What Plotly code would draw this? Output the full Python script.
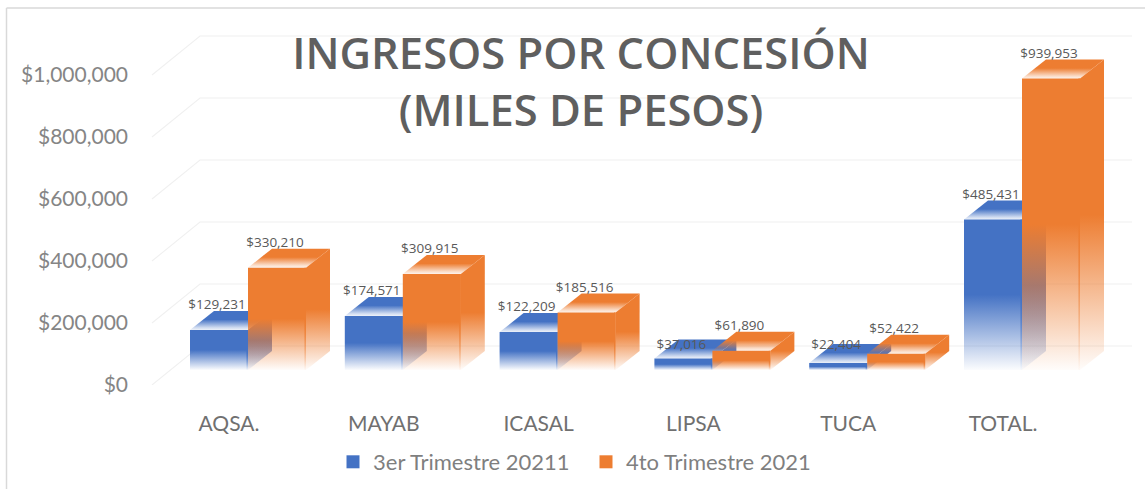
import plotly.graph_objects as go

categories = ["AQSA.", "MAYAB", "ICASAL", "LIPSA", "TUCA", "TOTAL."]
series_3er = [129231, 174571, 122209, 37016, 22404, 485431]
series_4to = [330210, 309915, 185516, 61890, 52422, 939953]
name_3er = "3er Trimestre 20211"
name_4to = "4to Trimestre 2021"
y_ticks = [0, 200000, 400000, 600000, 800000, 1000000]
y_labels = ["$0", "$200,000", "$400,000", "$600,000", "$800,000", "$1,000,000"]
title = "INGRESOS POR CONCESIÓN<br>(MILES DE PESOS)"

BLUE = (68, 114, 196)
ORANGE = (237, 125, 49)
W, H = 1145, 489
L, R, T, B = 135, 5, 0, 104
CAT_PX = 154.8
V_PER_PX = 200000 / 62
xr = [(L - 229) / CAT_PX, (W - R - 229) / CAT_PX]
yr = [0, (H - B - T) * V_PER_PX]

# labels the source chart moved down onto the bar top, in pixels
label_drop_3er = {3: 11, 4: 7}
label_drop_4to = {}


def rgba(c, a):
    return f"rgba({c[0]},{c[1]},{c[2]},{a})"


def fade(c):
    return [[0, rgba(c, 0.02)], [0.5, rgba(c, 1)], [1, rgba(c, 1)]]


def top_fade(c):
    return [[0, rgba(c, 0.1)], [0.12, rgba(c, 0.25)], [0.55, rgba(c, 1)], [1, rgba(c, 1)]]


BAR_W = 58 / CAT_PX
DX = 24 / CAT_PX
DY = 19 * V_PER_PX
FLOOR = 15 * V_PER_PX
EDGE = 1.6 / CAT_PX
fig = go.Figure()


def poly(xs, ys, scale):
    fig.add_trace(go.Scatter(
        x=xs + xs[:1], y=ys + ys[:1], mode="none", fill="toself", showlegend=False,
        hoverinfo="skip",
        fillgradient=dict(type="vertical", colorscale=scale),
    ))


# back walls / gridlines
GRID_DX = 48 / CAT_PX
GRID_DY = 39 * V_PER_PX
wall_left = xr[0] + 17 / CAT_PX
wall_right = (1132 - 229) / CAT_PX
for v in y_ticks:
    fig.add_trace(go.Scatter(
        x=[wall_left, wall_left + GRID_DX, wall_right],
        y=[v, v + GRID_DY, v + GRID_DY],
        mode="lines", line=dict(color="#F0F0F0", width=1.1),
        showlegend=False, hoverinfo="skip",
    ))


def bars(values, color, offset, drops):
    for i, v in enumerate(values):
        x0 = i + offset
        x1 = x0 + BAR_W
        y0 = FLOOR
        y1 = FLOOR + v
        # side
        poly([x1, x1 + DX, x1 + DX, x1], [y0, y0 + DY, y1 + DY, y1], fade(color))
        # top
        poly([x0, x1, x1 + DX, x0 + DX], [y1, y1, y1 + DY, y1 + DY], top_fade(color))
        # front
        poly([x0, x1, x1, x0], [y0, y0, y1, y1], fade(color))
        # front-right edge
        poly([x1 - EDGE, x1, x1, x1 - EDGE], [y0, y0, y1, y1], fade(color))
    fig.add_trace(go.Scatter(
        x=[i + offset + 27 / CAT_PX for i in range(len(values))],
        y=[FLOOR + v + DY + (5 - drops.get(i, 0)) * V_PER_PX for i, v in enumerate(values)],
        mode="text", text=[f"${v:,}" for v in values],
        textposition="middle center", cliponaxis=False,
        textfont=dict(family="Open Sans", size=13.5, color="#595959"),
        showlegend=False, hoverinfo="skip",
    ))


bars(series_3er, BLUE, -39 / CAT_PX, label_drop_3er)
bars(series_4to, ORANGE, -39 / CAT_PX + BAR_W, label_drop_4to)

for nm, c in [(name_3er, BLUE), (name_4to, ORANGE)]:
    fig.add_trace(go.Scatter(
        x=[None], y=[None], mode="markers", name=nm,
        marker=dict(symbol="square", size=13, color=rgba(c, 1)),
    ))

fig.update_layout(
    width=W, height=H, autosize=False,
    margin=dict(l=L, r=R, t=T, b=B),
    paper_bgcolor="white", plot_bgcolor="rgba(0,0,0,0)",
    title=dict(
        text=title, x=581 / W, y=1 - 69 / H, xanchor="center", yanchor="middle",
        xref="container", yref="container",
        font=dict(family="Open Sans", size=43.5, color="#5F5F5F", weight=600),
    ),
    xaxis=dict(
        range=xr, tickmode="array", tickvals=list(range(len(categories))), ticktext=categories,
        showgrid=False, zeroline=False, showline=False, ticks="", ticklabelstandoff=24,
        tickfont=dict(family="Lato", size=21, color="#707070"),
    ),
    yaxis=dict(
        range=yr, tickmode="array", tickvals=y_ticks, ticktext=y_labels,
        showgrid=False, zeroline=False, showline=False, ticks="", ticklabelstandoff=6,
        tickfont=dict(family="Lato", size=21, color="#858585"),
    ),
    legend=dict(
        orientation="h", x=(333 - L) / (W - L - R), y=-(462 - 385) / 385,
        xanchor="left", yanchor="middle", bgcolor="rgba(0,0,0,0)",
        entrywidth=208, entrywidthmode="pixels",
        font=dict(family="Lato", size=22, color="#7F7F7F"),
    ),
    showlegend=True,
    shapes=[
        dict(type="line", xref="paper", yref="paper",
             x0=(6.5 - L) / (W - L - R), x1=(W - L) / (W - L - R), y0=(385 - 8) / 385, y1=(385 - 8) / 385,
             line=dict(color="#D9D9D9", width=1.5)),
        dict(type="line", xref="paper", yref="paper",
             x0=(6.5 - L) / (W - L - R), x1=(6.5 - L) / (W - L - R), y0=(385 - 8) / 385, y1=(385 - H) / 385,
             line=dict(color="#D9D9D9", width=1.5)),
    ],
)
fig.write_html(
    "out.html",
    config={"displayModeBar": False},
    post_script="document.body.style.margin='0';document.body.style.overflow='hidden';",
)
